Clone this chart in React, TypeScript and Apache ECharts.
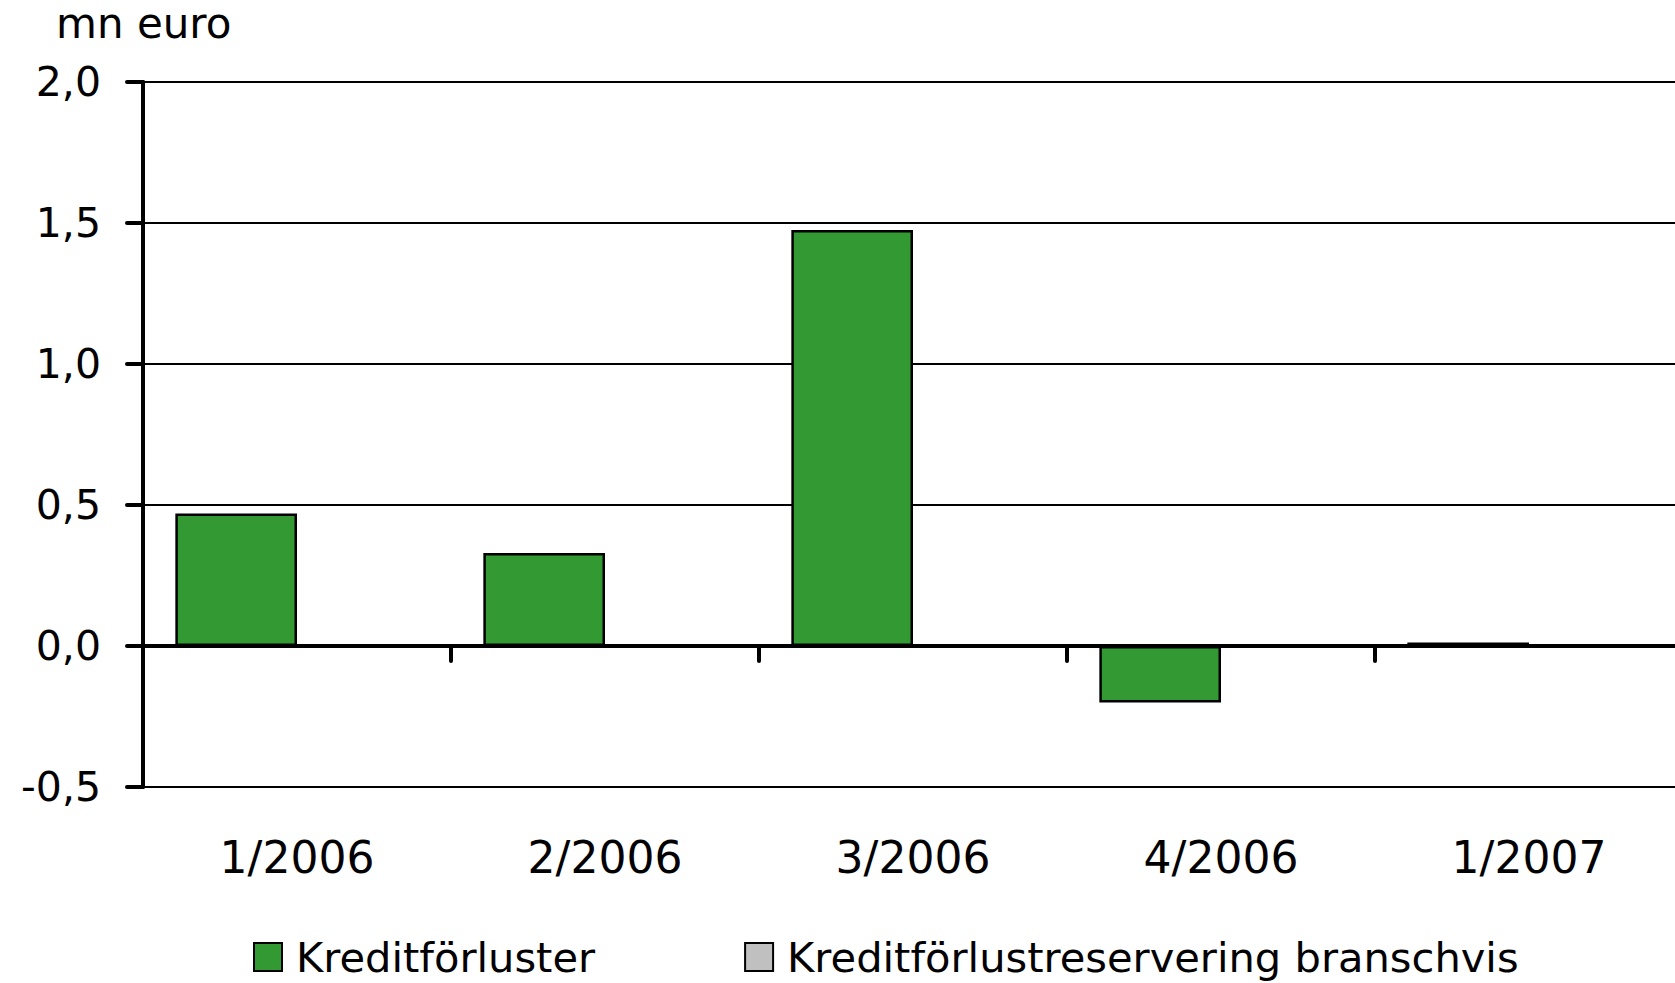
import React, { useEffect, useRef } from "react";
import * as echarts from "echarts";

const categories = ["1/2006", "2/2006", "3/2006", "4/2006", "1/2007"];
const kreditforluster = [0.47, 0.33, 1.475, -0.2, 0.012];
const reservering = [0, 0, 0, 0, 0];
const seriesNames = ["Kreditförluster", "Kreditförlustreservering branschvis"];
const unitLabel = "mn euro";

const FONT = "DejaVu Sans";

export default function App() {
  const ref = useRef<HTMLDivElement>(null);
  useEffect(() => {
    if (!ref.current) return;
    const chart = echarts.init(ref.current, null, { renderer: "svg" });
    chart.setOption({
      animation: false,
      backgroundColor: "#ffffff",
      textStyle: { fontFamily: FONT, color: "#000" },
      grid: {
        left: 143,
        right: -8,
        top: 82,
        bottom: 196,
        containLabel: false,
        outerBoundsMode: "none",
      },
      legend: {
        left: 253,
        top: 936,
        padding: 0,
        icon: "rect",
        itemWidth: 28,
        itemHeight: 28,
        itemGap: 149,
        textStyle: { fontFamily: FONT, fontSize: 41.6, color: "#000", padding: [0, 0, 0, 9] },
        data: seriesNames,
      },
      graphic: [
        {
          type: "text",
          left: 56,
          top: 2,
          style: { text: unitLabel, font: `42px "${FONT}"`, fill: "#000" },
        },
      ],
      xAxis: {
        type: "category",
        data: categories,
        axisLine: { onZero: true, lineStyle: { color: "#000", width: 4 } },
        axisTick: { show: true, length: 15, lineStyle: { color: "#000", width: 4, cap: "round" } },
        axisLabel: { margin: 48, fontFamily: FONT, fontSize: 44, color: "#000" },
        splitLine: { show: false },
      },
      yAxis: {
        type: "value",
        min: -0.5,
        max: 2,
        interval: 0.5,
        axisLine: { show: true, lineStyle: { color: "#000", width: 4 } },
        axisTick: { show: true, length: 16, lineStyle: { color: "#000", width: 4, cap: "round" } },
        axisLabel: {
          margin: 42,
          fontFamily: FONT,
          fontSize: 41,
          color: "#000",
          formatter: (v: number) => v.toFixed(1).replace(".", ","),
        },
        splitLine: { show: true, lineStyle: { color: "#000", width: 2 } },
      },
      series: [
        {
          name: seriesNames[0],
          type: "bar",
          data: kreditforluster,
          barGap: "0%",
          barCategoryGap: "21%",
          itemStyle: { color: "#339933", borderColor: "#000", borderWidth: 2.5 },
        },
        {
          name: seriesNames[1],
          type: "bar",
          data: reservering,
          itemStyle: { color: "#C0C0C0", borderColor: "#000", borderWidth: 2.5 },
        },
      ],
    });
    return () => chart.dispose();
  }, []);
  return (
    <div
      ref={ref}
      style={{ position: "fixed", left: 0, top: 0, width: 1675, height: 983, overflow: "hidden" }}
    />
  );
}
